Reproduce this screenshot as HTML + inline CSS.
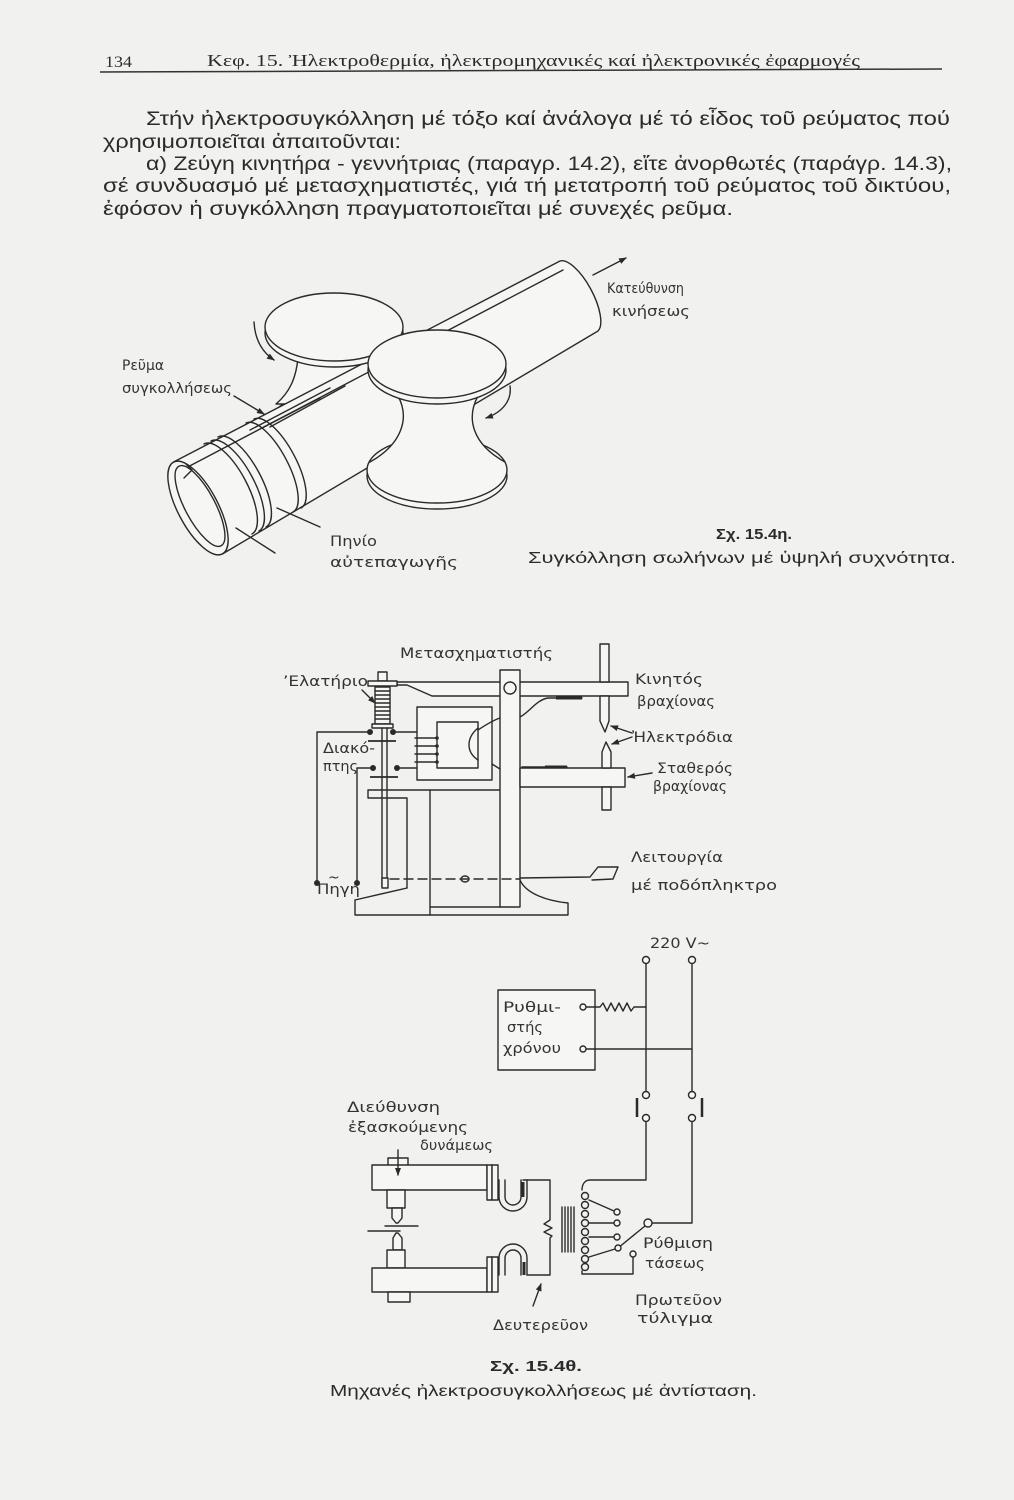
<!DOCTYPE html>
<html><head><meta charset="utf-8"><style>
html,body{margin:0;padding:0;background:#f1f1ef;}
svg{display:block;}
.b{font-family:"Liberation Sans","DejaVu Sans",sans-serif;fill:#2b2b2b;}
.s{font-family:"Liberation Serif","DejaVu Serif",serif;fill:#2b2b2b;}
.l{font-family:"DejaVu Sans","Liberation Sans",sans-serif;fill:#333;font-size:14px;}
.d{fill:none;stroke:#2a2a2a;stroke-width:1.4;stroke-linejoin:round;stroke-linecap:round;}
.w{fill:#f6f6f4;stroke:#2a2a2a;stroke-width:1.4;stroke-linejoin:round;}
.k{fill:#2a2a2a;}
</style></head><body>
<svg width="1014" height="1500" viewBox="0 0 1014 1500" xmlns="http://www.w3.org/2000/svg">
<defs>
<marker id="ah" markerWidth="8" markerHeight="8" refX="7" refY="4" orient="auto" markerUnits="userSpaceOnUse">
<path d="M0,1 L8,4 L0,7 Z" fill="#2a2a2a"/></marker>
</defs>
<rect width="1014" height="1500" fill="#f1f1ef"/>

<!-- header -->
<text class="s" x="105" y="67" font-size="16" textLength="27" lengthAdjust="spacingAndGlyphs">134</text>
<text class="s" x="207" y="66" font-size="17" textLength="653" lengthAdjust="spacingAndGlyphs">Κεφ. 15. Ἠλεκτροθερμία, ἠλεκτρομηχανικές καί ἠλεκτρονικές ἐφαρμογές</text>
<line x1="100" y1="72" x2="942" y2="69" stroke="#333" stroke-width="1.5"/>

<!-- body text -->
<text class="b" x="146" y="125" font-size="19" textLength="804" lengthAdjust="spacingAndGlyphs">Στήν ἠλεκτροσυγκόλληση μέ τόξο καί ἀνάλογα μέ τό εἶδος τοῦ ρεύματος πού</text>
<text class="b" x="103" y="148" font-size="19" textLength="298" lengthAdjust="spacingAndGlyphs">χρησιμοποιεῖται ἀπαιτοῦνται:</text>
<text class="b" x="146" y="170" font-size="19" textLength="806" lengthAdjust="spacingAndGlyphs">α) Ζεύγη κινητήρα - γεννήτριας (παραγρ. 14.2), εἴτε ἀνορθωτές (παράγρ. 14.3),</text>
<text class="b" x="103" y="192" font-size="19" textLength="848" lengthAdjust="spacingAndGlyphs">σέ συνδυασμό μέ μετασχηματιστές, γιά τή μετατροπή τοῦ ρεύματος τοῦ δικτύου,</text>
<text class="b" x="103" y="215" font-size="19" textLength="630" lengthAdjust="spacingAndGlyphs">ἐφόσον ἡ συγκόλληση πραγματοποιεῖται μέ συνεχές ρεῦμα.</text>

<!-- ================= FIG 1 ================= -->
<!-- upper roller lower flange & neck (behind pipe) -->
<ellipse class="w" cx="334" cy="420" rx="62" ry="28"/>
<path class="w" d="M298,358 C296,378 290,392 276,404 L392,404 C380,392 372,378 370,358 Z"/>
<!-- pipe body -->
<path class="w" d="M173.6,462 L560,261 A40,15 62 0 1 598,331 L222.4,554 Z"/>
<!-- seam lines -->
<path class="d" d="M182,470 L563,270"/>
<path class="d" d="M250,430 L330,388 M262,428 L320,398 M270,427 L345,386" stroke-width="0.9"/>
<!-- coil rings -->
<g class="d">
<path d="M204,444 A50,19 62 0 1 252,534"/>
<path d="M211,441 A50,19 62 0 1 259,531"/>
<path d="M218,437 A50,19 62 0 1 266,527"/>
<path d="M246,423 A49,18 62 0 1 293,512"/>
<path d="M254,419 A49,18 62 0 1 301,508"/>
</g>
<!-- front end -->
<ellipse class="w" cx="198" cy="508" rx="52" ry="20" transform="rotate(62 198 508)"/>
<ellipse class="w" cx="200" cy="506" rx="45" ry="15" transform="rotate(62 200 506)"/>
<path class="d" d="M186,464 L192,470 L184,478"/>
<!-- upper roller top disk -->
<ellipse class="w" cx="334" cy="333" rx="69" ry="34"/>
<ellipse class="w" cx="334" cy="327" rx="69" ry="34"/>
<!-- lower roller -->
<ellipse class="w" cx="437" cy="476" rx="70" ry="33"/>
<ellipse class="w" cx="437" cy="470" rx="70" ry="33"/>
<path d="M398,396 C410,418 402,444 370,462 Q437,480 505,462 C472,444 466,418 478,396 Z" fill="#f6f6f4" stroke="none"/>
<path class="d" d="M398,396 C410,418 402,444 370,462 M478,396 C466,418 472,444 505,462"/>
<ellipse class="w" cx="437" cy="370" rx="69" ry="34"/>
<ellipse class="w" cx="437" cy="364" rx="69" ry="34"/>
<!-- arrows -->
<path class="d" d="M254,322 C255,340 262,352 274,360" marker-end="url(#ah)"/>
<path class="d" d="M510,386 C512,400 503,412 486,418" marker-end="url(#ah)"/>
<path class="d" d="M593,275 L626,258" marker-end="url(#ah)"/>
<path class="d" d="M234,396 L264,414" marker-end="url(#ah)"/>
<path class="d" d="M277,508 L320,527 M236,528 L275,553" stroke-width="1"/>
<!-- labels fig1 -->
<text class="l" x="122" y="370" textLength="42" lengthAdjust="spacingAndGlyphs">Ρεῦμα</text>
<text class="l" x="122" y="393" textLength="110" lengthAdjust="spacingAndGlyphs">συγκολλήσεως</text>
<text class="l" x="607" y="293" textLength="77" lengthAdjust="spacingAndGlyphs">Κατεύθυνση</text>
<text class="l" x="612" y="316" textLength="78" lengthAdjust="spacingAndGlyphs">κινήσεως</text>
<text class="l" x="330" y="546" textLength="47" lengthAdjust="spacingAndGlyphs">Πηνίο</text>
<text class="l" x="330" y="567" textLength="128" lengthAdjust="spacingAndGlyphs">αὐτεπαγωγῆς</text>
<text class="b" x="716" y="539" font-size="15" font-weight="bold" textLength="76" lengthAdjust="spacingAndGlyphs">Σχ. 15.4η.</text>
<text class="b" x="528" y="563" font-size="16" textLength="428" lengthAdjust="spacingAndGlyphs">Συγκόλληση σωλήνων μέ ὑψηλή συχνότητα.</text>

<!-- ================= FIG 2 ================= -->
<text class="l" x="400" y="658" textLength="153" lengthAdjust="spacingAndGlyphs">Μετασχηματιστής</text>
<text class="l" x="283" y="686" textLength="85" lengthAdjust="spacingAndGlyphs">’Ελατήριο</text>
<text class="l" x="323" y="753" textLength="52" lengthAdjust="spacingAndGlyphs">Διακό-</text>
<text class="l" x="323" y="771" textLength="35" lengthAdjust="spacingAndGlyphs">πτης</text>
<text class="l" x="635" y="684" textLength="68" lengthAdjust="spacingAndGlyphs">Κινητός</text>
<text class="l" x="637" y="706" textLength="78" lengthAdjust="spacingAndGlyphs">βραχίονας</text>
<text class="l" x="632" y="742" textLength="101" lengthAdjust="spacingAndGlyphs">Ἠλεκτρόδια</text>
<text class="l" x="657" y="773" textLength="76" lengthAdjust="spacingAndGlyphs">Σταθερός</text>
<text class="l" x="653" y="791" textLength="74" lengthAdjust="spacingAndGlyphs">βραχίονας</text>
<text class="l" x="631" y="862" textLength="92" lengthAdjust="spacingAndGlyphs">Λειτουργία</text>
<text class="l" x="631" y="890" textLength="146" lengthAdjust="spacingAndGlyphs">μέ ποδόπληκτρο</text>
<text class="l" x="317" y="894" textLength="43" lengthAdjust="spacingAndGlyphs">Πηγή</text>
<text class="l" x="328" y="882" font-size="12">~</text>

<!-- upper arm -->
<path class="w" d="M397,682 L628,682 L628,696 L432,696 L407,685 L397,685 Z"/>
<!-- plate and lower body -->
<path class="d" d="M368,790 L500,790 M368,790 L368,798 L407,798 L407,888 M430,790 L430,915 M430,907 L500,907"/>
<!-- base -->
<path class="d" d="M355,900 L407,888 M355,900 L355,915 L568,915 L568,903 C548,901 526,894 520,880"/>
<!-- column -->
<rect class="w" x="500" y="670" width="20" height="237"/>
<circle class="w" cx="510" cy="688" r="6"/>
<!-- transformer -->
<rect class="w" x="417" y="707" width="75" height="73"/>
<rect class="w" x="437" y="722" width="41" height="46"/>
<path class="d" d="M478,728 C466,738 466,752 478,760 M478,730 C487,724 494,720 500,718 M492,764 L500,769"/>
<path class="d" d="M415,738 L437,738 M415,746 L437,746 M415,754 L437,754 M415,762 L437,762"/>
<g class="k"><circle cx="437" cy="738" r="1.8"/><circle cx="437" cy="746" r="1.8"/><circle cx="437" cy="754" r="1.8"/><circle cx="437" cy="762" r="1.8"/></g>
<!-- arm wires -->
<path class="d" d="M520,717 C530,712 536,700 548,698 L582,698 M522,767 L567,767"/>
<path d="M556,698 L582,698 M545,767 L567,767" stroke="#2a2a2a" stroke-width="3"/>
<!-- lower arm -->
<rect class="w" x="520" y="768" width="105" height="19"/>
<!-- electrodes -->
<rect class="w" x="600" y="644" width="9" height="38"/>
<path class="w" d="M600,696 L609,696 L609,721 L605,732 L600,721 Z"/>
<path class="w" d="M606,742 L611,752 L611,768 L602,768 L602,752 Z"/>
<rect class="w" x="602" y="787" width="9" height="23"/>
<!-- spring assembly -->
<rect class="w" x="378" y="672" width="9" height="9"/>
<rect class="w" x="368" y="681" width="29" height="5"/>
<rect class="w" x="375" y="687" width="15" height="37"/>
<path class="d" d="M375,691 L390,691 M375,695 L390,695 M375,699 L390,699 M375,703 L390,703 M375,707 L390,707 M375,711 L390,711 M375,715 L390,715 M375,719 L390,719" stroke-width="1.1"/>
<rect class="w" x="372" y="724" width="21" height="4"/>
<path class="d" d="M382,728 L382,887 M387,728 L387,887"/>
<rect class="w" x="382" y="878" width="6" height="10"/>
<!-- switch -->
<g class="k"><circle cx="370" cy="732" r="3"/><circle cx="393" cy="732" r="3"/><circle cx="373" cy="768" r="3"/><circle cx="397" cy="768" r="3"/><circle cx="317" cy="883" r="3"/><circle cx="357" cy="883" r="3"/></g>
<path d="M368,741 L396,741 M370,777 L398,777" stroke="#2a2a2a" stroke-width="1.8"/>
<path class="d" d="M370,732 L317,732 L317,883 M373,768 L357,768 L357,883 M393,732 L417,732 M397,768 L417,768"/>
<!-- dashed + pedal -->
<path class="d" d="M390,879 L520,879" stroke-dasharray="9,5"/>
<ellipse class="d" cx="465" cy="879" rx="4" ry="3"/>
<path class="d" d="M520,878 L590,877 L598,867 L618,867 L613,879 L592,880"/>
<!-- leaders fig2 -->
<path class="d" d="M362,690 L375,703" marker-end="url(#ah)"/>
<path class="d" d="M632,733 L611,726" marker-end="url(#ah)"/>
<path class="d" d="M632,737 L612,744" marker-end="url(#ah)"/>
<path class="d" d="M652,773 L628,777" marker-end="url(#ah)"/>

<!-- ================= FIG 3 ================= -->
<text class="l" x="650" y="948" textLength="60" lengthAdjust="spacingAndGlyphs">220 V~</text>
<rect class="w" x="498" y="990" width="97" height="80"/>
<text class="l" x="503" y="1012" textLength="58" lengthAdjust="spacingAndGlyphs">Ρυθμι-</text>
<text class="l" x="507" y="1032" textLength="36" lengthAdjust="spacingAndGlyphs">στής</text>
<text class="l" x="503" y="1053" textLength="58" lengthAdjust="spacingAndGlyphs">χρόνου</text>
<path class="d" d="M646,964 L646,1091 M692,964 L692,1091"/>
<path class="d" d="M586,1007 L600,1007 L603,1003 L607,1011 L611,1003 L615,1011 L619,1003 L623,1011 L627,1003 L631,1011 L634,1007 L646,1007"/>
<path class="d" d="M586,1049 L692,1049"/>
<g class="w"><circle cx="646" cy="960" r="3.5"/><circle cx="692" cy="960" r="3.5"/><circle cx="583" cy="1007" r="3"/><circle cx="583" cy="1049" r="3"/>
<circle cx="646" cy="1095" r="3.5"/><circle cx="692" cy="1095" r="3.5"/><circle cx="646" cy="1118" r="3.5"/><circle cx="692" cy="1118" r="3.5"/></g>
<path d="M637,1098 L637,1117 M702,1098 L702,1117" stroke="#2a2a2a" stroke-width="2.5"/>
<path class="d" d="M646,1122 L646,1180 L590,1180 C585,1180 582,1184 582,1190"/>
<path class="d" d="M692,1122 L692,1223 L652,1223"/>
<circle class="w" cx="648" cy="1223" r="4"/>
<path class="d" d="M618,1248 L645,1226"/>
<!-- primary coil -->
<g class="d" stroke-width="1.2">
<circle cx="585" cy="1196" r="3.5"/><circle cx="585" cy="1205" r="3.5"/><circle cx="585" cy="1214" r="3.5"/><circle cx="585" cy="1223" r="3.5"/><circle cx="585" cy="1232" r="3.5"/><circle cx="585" cy="1241" r="3.5"/><circle cx="585" cy="1250" r="3.5"/><circle cx="585" cy="1259" r="3.5"/><circle cx="585" cy="1267" r="3.5"/>
</g>
<path class="d" d="M589,1200 L614,1211 M589,1223 L614,1223 M589,1237 L614,1237 M589,1257 L615,1249 M582,1271 L582,1274 L633,1274 L633,1257"/>
<g class="w"><circle cx="617" cy="1212" r="3"/><circle cx="617" cy="1223" r="3"/><circle cx="617" cy="1237" r="3"/><circle cx="618" cy="1248" r="3"/><circle cx="633" cy="1254" r="3"/></g>
<!-- core -->
<path class="d" d="M562,1207 L562,1252 M565,1207 L565,1252 M568,1207 L568,1252 M571,1207 L571,1252 M574,1207 L574,1252" stroke-width="1"/>
<!-- secondary -->
<path class="d" d="M523,1180 L550,1180 L550,1220 L544,1224 L552,1228 L544,1232 L552,1236 L550,1238 L550,1275 L527,1275"/>
<path d="M523,1182 L523,1197 M524,1262 L524,1275" stroke="#2a2a2a" stroke-width="3"/>
<!-- U-bends -->
<path class="d" d="M499,1180 L499,1197 A14,14 0 0 0 527,1197 L527,1180 M505,1180 L505,1197 A8,8 0 0 0 521,1197 L521,1180"/>
<path class="d" d="M499,1275 L499,1258 A14,14 0 0 1 527,1258 L527,1275 M505,1275 L505,1258 A8,8 0 0 1 521,1258 L521,1275"/>
<!-- arms -->
<rect class="w" x="388" y="1158" width="20" height="8"/>
<rect class="w" x="372" y="1165" width="115" height="25"/>
<rect class="w" x="487" y="1165" width="5" height="35"/>
<rect class="w" x="492" y="1165" width="6" height="35"/>
<rect class="w" x="387" y="1190" width="18" height="18"/>
<path class="w" d="M392,1208 L402,1208 L402,1218 L398,1223 L396,1223 L392,1218 Z"/>
<path class="d" d="M385,1226 L418,1226 M368,1231 L400,1231"/>
<path class="w" d="M396,1233 L398,1233 L402,1238 L402,1250 L393,1250 L393,1238 Z"/>
<rect class="w" x="387" y="1250" width="18" height="18"/>
<rect class="w" x="372" y="1268" width="115" height="24"/>
<rect class="w" x="487" y="1257" width="5" height="35"/>
<rect class="w" x="492" y="1257" width="6" height="35"/>
<rect class="w" x="388" y="1292" width="22" height="10"/>
<path class="d" d="M398,1150 L398,1175" marker-end="url(#ah)"/>
<path class="d" d="M533,1306 L541,1284" marker-end="url(#ah)"/>
<!-- labels fig3 -->
<text class="l" x="347" y="1112" textLength="93" lengthAdjust="spacingAndGlyphs">Διεύθυνση</text>
<text class="l" x="348" y="1132" textLength="120" lengthAdjust="spacingAndGlyphs">ἐξασκούμενης</text>
<text class="l" x="420" y="1150" textLength="73" lengthAdjust="spacingAndGlyphs">δυνάμεως</text>
<text class="l" x="643" y="1248" textLength="70" lengthAdjust="spacingAndGlyphs">Ρύθμιση</text>
<text class="l" x="645" y="1268" textLength="60" lengthAdjust="spacingAndGlyphs">τάσεως</text>
<text class="l" x="635" y="1305" textLength="87" lengthAdjust="spacingAndGlyphs">Πρωτεῦον</text>
<text class="l" x="637" y="1323" textLength="76" lengthAdjust="spacingAndGlyphs">τύλιγμα</text>
<text class="l" x="493" y="1330" textLength="95" lengthAdjust="spacingAndGlyphs">Δευτερεῦον</text>
<text class="b" x="490" y="1371" font-size="15" font-weight="bold" textLength="92" lengthAdjust="spacingAndGlyphs">Σχ. 15.4θ.</text>
<text class="b" x="330" y="1396" font-size="16" textLength="427" lengthAdjust="spacingAndGlyphs">Μηχανές ἠλεκτροσυγκολλήσεως μέ ἀντίσταση.</text>
</svg>
</body></html>
